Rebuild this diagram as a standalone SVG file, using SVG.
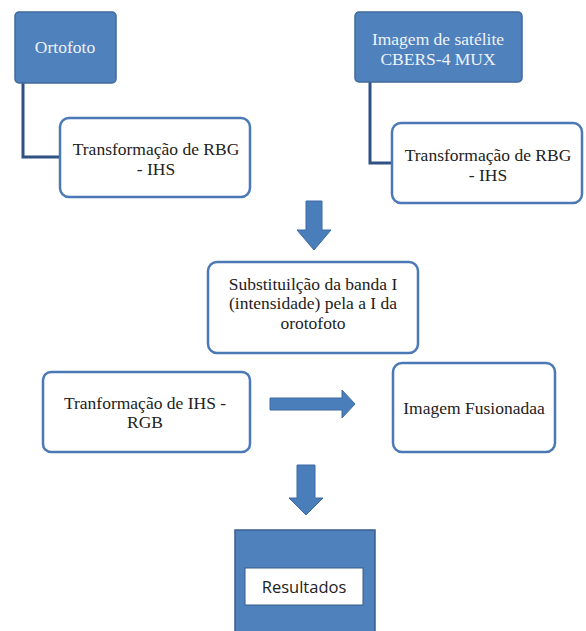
<svg xmlns="http://www.w3.org/2000/svg" width="586" height="631" viewBox="0 0 586 631">
<style>
.blue{fill:#4f81bd;stroke:#41699b;stroke-width:1.5}
.box{fill:#fff;stroke:#4a79b5;stroke-width:2.5}
.t{font-family:"Liberation Serif",serif;font-size:17.5px;fill:#222;text-anchor:middle}
.tw{font-family:"Liberation Serif",serif;font-size:17.5px;fill:#eef3f9;text-anchor:middle}
.conn{fill:none;stroke:#2f5283;stroke-width:3}
.arrow{fill:#4a7ebb;stroke:#3d6aa3;stroke-width:1}
</style>
<rect width="586" height="631" fill="#fff"/>
<g id="connectors">
<path class="conn" d="M23,83 V157 H60"/>
<path class="conn" d="M370,82 V163 H392"/>
<path id="arrow1" class="arrow" d="M306,201 H322 V230 H331 L314,250 L297,230 H306 Z"/>
<path id="arrow2" class="arrow" d="M270,398 H342 V390 L355,404 L342,418 V410 H270 Z"/>
<path id="arrow3" class="arrow" d="M297,465 H315 V498 H323 L306,515 L289,498 H297 Z"/>
</g>
<g id="ortofoto">
<rect class="blue" x="15" y="12" width="101" height="71" rx="4"/>
<text class="tw" x="65" y="53">Ortofoto</text>
</g>
<g id="transf1">
<rect class="box" x="60" y="118" width="190" height="79" rx="9"/>
<text class="t" x="156" y="155">Transformação de RBG</text>
<text class="t" x="156" y="175">- IHS</text>
</g>
<g id="satelite">
<rect class="blue" x="355" y="12" width="167" height="70" rx="4"/>
<text class="tw" x="438" y="45">Imagem de satélite</text>
<text class="tw" x="438" y="65">CBERS-4 MUX</text>
</g>
<g id="transf2">
<rect class="box" x="392" y="123" width="190" height="80" rx="9"/>
<text class="t" x="488" y="161">Transformação de RBG</text>
<text class="t" x="488" y="181">- IHS</text>
</g>
<g id="substituicao">
<rect class="box" x="208" y="262" width="210" height="91" rx="9"/>
<text class="t" x="313" y="290">Substituilção da banda I</text>
<text class="t" x="313" y="309">(intensidade) pela a I da</text>
<text class="t" x="313" y="329">orotofoto</text>
</g>
<g id="ihsrgb">
<rect class="box" x="43" y="372" width="207" height="80" rx="8"/>
<text class="t" x="145" y="409">Tranformação de IHS -</text>
<text class="t" x="145" y="428">RGB</text>
</g>
<g id="fusionada">
<rect class="box" x="393" y="363" width="162" height="89" rx="9"/>
<text class="t" x="474" y="414">Imagem Fusionadaa</text>
</g>
<g id="resultados">
<rect x="235" y="530" width="140" height="110" fill="#4f81bd" stroke="#385d8a" stroke-width="1.5"/>
<rect x="245" y="568" width="118" height="37" fill="#fff" stroke="#385d8a" stroke-width="1"/>
<text x="304" y="593" font-family="Open Sans, Liberation Sans, sans-serif" font-size="16.5" fill="#222" text-anchor="middle">Resultados</text>
</g>
</svg>
